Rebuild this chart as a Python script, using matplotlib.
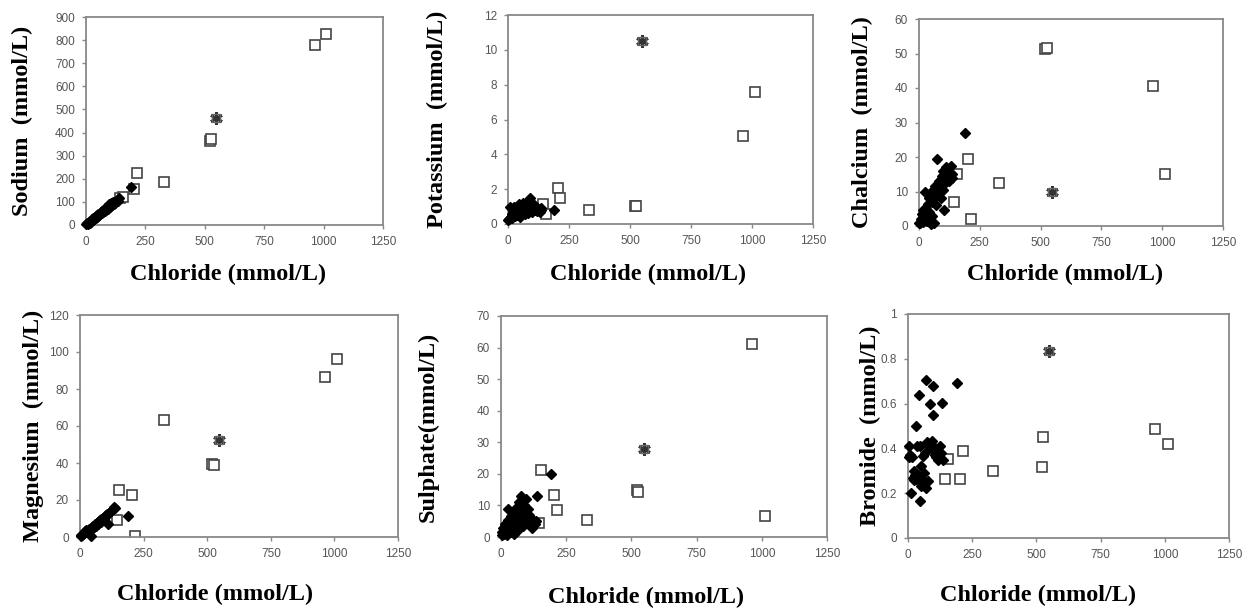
import matplotlib
matplotlib.use('Agg')
import matplotlib.pyplot as plt
import numpy as np

# ---- data ----
# diamonds: groundwater samples
cl_dia = [2, 5, 8, 12, 15, 18, 22, 25, 28, 30, 33, 36, 40, 43, 45, 48, 50, 52, 55, 58, 60, 63,
          66, 69, 70, 74, 78, 82, 84, 88, 92, 95, 97, 98, 102, 106, 110, 113, 118, 123, 130, 134, 137, 190]
na_dia = [3, 8, 5, 14, 10, 18, 15, 24, 20, 29, 25, 33, 32, 40, 35, 44, 38, 49, 42, 53, 48, 57,
          52, 62, 55, 67, 60, 74, 66, 80, 70, 86, 76, 90, 80, 95, 85, 100, 92, 96, 110, 104, 118, 165]
k_dia = [0.25, 0.30, 0.95, 0.40, 0.55, 0.35, 0.70, 1.00, 0.60, 0.45, 0.80, 0.50, 0.95, 0.65, 1.15,
         0.75, 0.40, 1.05, 0.85, 0.60, 1.20, 0.70, 0.90, 0.55, 1.10, 0.75, 0.95, 0.65, 1.30, 0.85,
         1.50, 1.00, 0.70, 1.20, 0.90, 1.10, 0.80, 0.95, 0.75, 0.85, 0.70, 0.80, 0.90, 0.80]
ca_dia = [1.0, 0.8, 2.0, 3.5, 1.2, 4.5, 2.5, 10.0, 3.0, 5.0, 1.5, 6.5, 8.0, 4.0, 2.2, 9.5, 0.5,
          7.0, 3.0, 10.5, 1.0, 8.5, 11.5, 6.0, 9.0, 19.4, 10.0, 12.0, 13.0, 11.0, 8.0, 14.5, 10.5,
          16.0, 4.5, 12.5, 17.0, 15.0, 16.5, 13.0, 17.5, 15.0, 14.0, 27.0]
mg_dia = [0.5, 1.0, 1.2, 1.5, 2.0, 3.5, 2.5, 4.0, 3.0, 3.2, 2.8, 4.5, 3.8, 5.0, 0.5, 5.5, 4.8,
          6.0, 5.2, 6.5, 7.0, 6.2, 7.5, 7.0, 8.0, 8.5, 9.0, 8.2, 9.5, 10.0, 10.5, 9.8, 11.0, 11.5,
          12.0, 12.5, 7.0, 13.0, 13.5, 14.0, 15.0, 16.0, 15.5, 11.5]
so4_dia = [0.5, 1.5, 3.0, 1.0, 4.0, 2.0, 0.5, 5.5, 9.0, 2.5, 4.5, 1.5, 6.5, 3.5, 7.5, 5.0, 1.0,
           8.0, 3.0, 6.0, 2.0, 9.5, 4.0, 7.0, 11.0, 5.5, 13.0, 8.0, 3.5, 10.0, 6.5, 12.0, 8.5, 5.0,
           9.0, 7.0, 4.5, 6.0, 3.0, 5.5, 4.0, 5.0, 12.9, 20.0]
br_dia = [0.41, 0.36, 0.37, 0.20, 0.36, 0.27, 0.26, 0.30, 0.28, 0.265, 0.50, 0.41, 0.283, 0.64,
          0.164, 0.41, 0.23, 0.32, 0.245, 0.26, 0.365, 0.29, 0.38, 0.704, 0.223, 0.43, 0.253,
          0.41, 0.60, 0.42, 0.40, 0.435, 0.68, 0.55, 0.39, 0.37, 0.362, 0.387, 0.35, 0.41, 0.38,
          0.603, 0.35, 0.692]

# open squares
cl_sq = [145, 155, 203, 215, 330, 520, 526, 962, 1012]
na_sq = [115, 122, 154, 223, 187, 365, 372, 778, 826]
k_sq = [1.15, 0.55, 2.09, 1.47, 0.80, 1.02, 1.05, 5.05, 7.56]
ca_sq = [7.0, 15.2, 19.4, 1.9, 12.5, 51.3, 51.5, 40.6, 15.2]
mg_sq = [9.0, 25.3, 22.9, 0.5, 63.2, 39.7, 39.0, 86.3, 96.0]
so4_sq = [4.4, 21.3, 13.4, 8.6, 5.5, 15.0, 14.1, 61.2, 6.7]
br_sq = [0.265, 0.353, 0.265, 0.387, 0.301, 0.317, 0.451, 0.488, 0.421]

# asterisk sample
cl_star = [548]
na_star = [465]
k_star = [10.5]
ca_star = [10.0]
mg_star = [52.5]
so4_star = [28.0]
br_star = [0.836]

W, H = 1251, 611
fig = plt.figure(figsize=(W / 100, H / 100), dpi=100)

# (left, right, top, bottom) in pixels, ylabel x, xlabel (x, y)
panels = [
    ((86, 383, 17, 225), 22, (228, 274), 'Sodium  (mmol/L)', na_dia, na_sq, na_star, 900, 100),
    ((508, 813, 15, 224), 437, (648, 274), 'Potassium  (mmol/L)', k_dia, k_sq, k_star, 12, 2),
    ((919, 1223, 19, 226), 862, (1065, 274), 'Chalcium  (mmol/L)', ca_dia, ca_sq, ca_star, 60, 10),
    ((80, 398, 315, 537), 33, (215, 594), 'Magnesium  (mmol/L)', mg_dia, mg_sq, mg_star, 120, 20),
    ((501, 827, 316, 537), 428, (646, 597), 'Sulphate(mmol/L)', so4_dia, so4_sq, so4_star, 70, 10),
    ((908, 1229, 314, 538), 870, (1038, 595), 'Bromide  (mmol/L)', br_dia, br_sq, br_star, 1, 0.2),
]

lab_font = dict(family='Liberation Serif', fontweight='bold', fontsize=17.5)

for (l, r, t, b), ylx, (xlx, xly), ylab, yd, ys, yst, ymax, ystep in panels:
    ax = fig.add_axes([l / W, (H - b) / H, (r - l) / W, (b - t) / H])
    ax.plot(cl_dia, yd, 'D', color='black', ms=5.2, mec='black', zorder=3, clip_on=False)
    ax.plot(cl_sq, ys, 's', mfc='white', mec='#444444', ms=7.5, mew=1.2, zorder=2)
    ax.plot(cl_star, yst, marker=(6, 2, 0), ls='none', color='#333333', ms=9, mew=2, zorder=4)
    ax.plot(cl_star, yst, marker='s', ls='none', mfc='none', mec='#666666', ms=6, mew=1, zorder=4)

    ax.set_xlim(0, 1250)
    ax.set_ylim(0, ymax)
    ax.set_xticks(np.arange(0, 1251, 250))
    yt = np.arange(0, ymax + ystep / 2, ystep)
    ax.set_yticks(yt)
    if ymax == 1:
        ax.set_yticklabels(['0', '0.2', '0.4', '0.6', '0.8', '1'])
    for sp in ax.spines.values():
        sp.set_color('#888888')
        sp.set_linewidth(1.3)
    ax.tick_params(direction='out', length=3, width=1, color='#888888',
                   labelsize=8.5, labelcolor='#555555', pad=5)
    for lbl in ax.get_xticklabels() + ax.get_yticklabels():
        lbl.set_family('Liberation Sans')

    fig.text(xlx / W, 1 - xly / H, 'Chloride (mmol/L)', ha='center', va='center', **lab_font)
    fig.text(ylx / W, 1 - ((t + b) / 2) / H, ylab, ha='center', va='center',
             rotation=90, **lab_font)

fig.savefig('out.png', dpi=100)
